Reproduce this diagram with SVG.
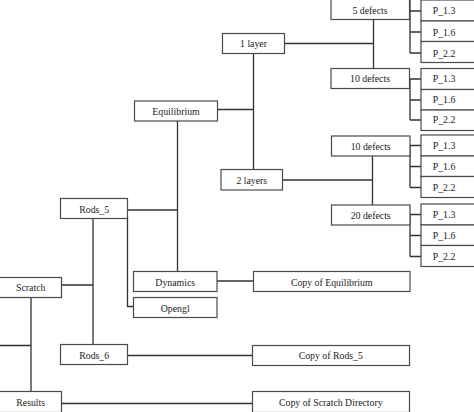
<svg xmlns="http://www.w3.org/2000/svg" width="474" height="412" viewBox="0 0 474 412">
<style>
.b rect{fill:#fff;stroke:#4a4a4a;stroke-width:1.2}
.b text,text{font-family:"Liberation Serif","Times New Roman",serif;font-size:9.8px;fill:#222;text-anchor:middle}
.c{fill:none;stroke:#333;stroke-width:1.3}
</style>
<rect width="474" height="412" fill="#fff"/>
<g id="connectors" class="c">
<path d="M284.5,43.5H373.5M373.5,19.5V68.5"/>
<path d="M282.5,180H372.5M372.5,156V205"/>
<path d="M217.5,109.5H253.5M253.5,53.5V169.5"/>
<path d="M127.5,210H177.5M177.5,121V271.5"/>
<path d="M217,281H253.5"/>
<path d="M127.5,218.5V306.5H133.5"/>
<path d="M61.5,285H93M93,218.5V344.5"/>
<path d="M127.5,355.5H252.5"/>
<path d="M31,297.5V391.5M0,345.5H31"/>
<path d="M61.5,403.5H252.5"/>
<path d="M410,0V53M410,11H421M410,32H421M410,53H421"/>
<path d="M410,79V120M410,79H421M410,100H421M410,120H421"/>
<path d="M410,145.5V187.5M410,145.5H421M410,166.5H421M410,187.5H421"/>
<path d="M410,214.5V256.5M410,214.5H421M410,235.5H421M410,256.5H421"/>
</g>
<g id="scratch" class="b"><rect x="-6" y="277.5" width="67.5" height="20"/><text x="30.7" y="291">Scratch</text></g>
<g id="results" class="b"><rect x="-6" y="391.5" width="67.5" height="21"/><text x="30.7" y="406">Results</text></g>
<g id="rods5" class="b"><rect x="60.5" y="198.5" width="67" height="20"/><text x="94.2" y="212.6">Rods_5</text></g>
<g id="rods6" class="b"><rect x="60.5" y="344.5" width="67" height="20"/><text x="94.2" y="358.8">Rods_6</text></g>
<g id="equilibrium" class="b"><rect x="134.5" y="101" width="83" height="20"/><text x="176" y="115.4">Equilibrium</text></g>
<g id="dynamics" class="b"><rect x="133.5" y="271.5" width="83.5" height="20"/><text x="175.2" y="285.9">Dynamics</text></g>
<g id="opengl" class="b"><rect x="133.5" y="297.5" width="83.5" height="20"/><text x="175.2" y="311.5">Opengl</text></g>
<g id="layer1" class="b"><rect x="222.5" y="33.5" width="62" height="20"/><text x="253.5" y="46.8">1 layer</text></g>
<g id="layers2" class="b"><rect x="221" y="169.5" width="61.5" height="20.5"/><text x="251.8" y="183.8">2 layers</text></g>
<g id="copy-equilibrium" class="b"><rect x="253.5" y="271.5" width="156.5" height="20"/><text x="331.7" y="285.9">Copy of Equilibrium</text></g>
<g id="copy-rods5" class="b"><rect x="252.5" y="345.5" width="157" height="20"/><text x="330.8" y="359.1">Copy of Rods_5</text></g>
<g id="copy-scratch" class="b"><rect x="252.5" y="391.5" width="157" height="21"/><text x="330.8" y="406">Copy of Scratch Directory</text></g>
<g id="defects5" class="b"><rect x="331" y="-1" width="78.5" height="20.5"/><text x="370" y="14.2">5 defects</text></g>
<g id="defects10a" class="b"><rect x="331" y="68.5" width="78.5" height="20"/><text x="370" y="82.4">10 defects</text></g>
<g id="defects10b" class="b"><rect x="331.5" y="136" width="78.5" height="20"/><text x="370.7" y="149.9">10 defects</text></g>
<g id="defects20" class="b"><rect x="331.5" y="205" width="78.5" height="20"/><text x="370.7" y="218.9">20 defects</text></g>
<g id="g1-p13" class="b"><rect x="421" y="0" width="60" height="21"/><text x="444" y="14.3">P_1.3</text></g>
<g id="g1-p16" class="b"><rect x="421" y="21" width="60" height="20.5"/><text x="444" y="35.5">P_1.6</text></g>
<g id="g1-p22" class="b"><rect x="421" y="41.5" width="60" height="21"/><text x="444" y="56.5">P_2.2</text></g>
<g id="g2-p13" class="b"><rect x="421" y="68.5" width="60" height="21"/><text x="444" y="82.4">P_1.3</text></g>
<g id="g2-p16" class="b"><rect x="421" y="89.5" width="60" height="20.5"/><text x="444" y="103.3">P_1.6</text></g>
<g id="g2-p22" class="b"><rect x="421" y="110" width="60" height="20.5"/><text x="444" y="123.3">P_2.2</text></g>
<g id="g3-p13" class="b"><rect x="421" y="135" width="60" height="21"/><text x="444" y="148.8">P_1.3</text></g>
<g id="g3-p16" class="b"><rect x="421" y="156" width="60" height="20.5"/><text x="444" y="169.9">P_1.6</text></g>
<g id="g3-p22" class="b"><rect x="421" y="176.5" width="60" height="21"/><text x="444" y="190.9">P_2.2</text></g>
<g id="g4-p13" class="b"><rect x="421" y="204" width="60" height="21"/><text x="444" y="218.3">P_1.3</text></g>
<g id="g4-p16" class="b"><rect x="421" y="225" width="60" height="20.5"/><text x="444" y="238.5">P_1.6</text></g>
<g id="g4-p22" class="b"><rect x="421" y="245.5" width="60" height="21"/><text x="444" y="259.7">P_2.2</text></g>
</svg>
